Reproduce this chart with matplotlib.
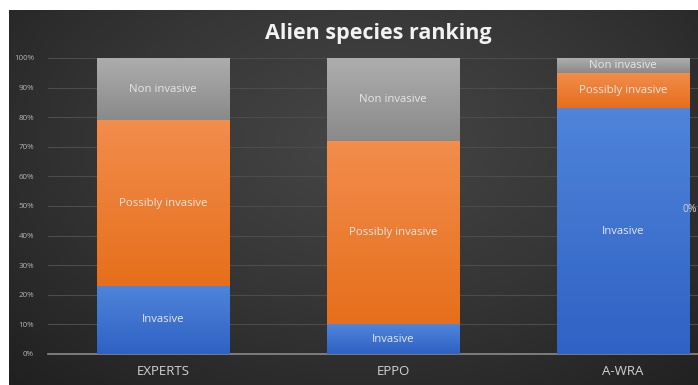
import numpy as np
import matplotlib
matplotlib.use('Agg')
import matplotlib.pyplot as plt
from matplotlib.colors import LinearSegmentedColormap

# data (share of species per ranking)
categories = ['EXPERTS', 'EPPO', 'A-WRA']
series_names = ['Invasive', 'Possibly invasive', 'Non invasive']
invasive = [0.23, 0.10, 0.83]
possibly_invasive = [0.56, 0.62, 0.12]
non_invasive = [0.21, 0.28, 0.05]
y_ticks = [0, 0.1, 0.2, 0.3, 0.4, 0.5, 0.6, 0.7, 0.8, 0.9, 1.0]
y_tick_labels = ['0%', '10%', '20%', '30%', '40%', '50%', '60%', '70%', '80%', '90%', '100%']

# gradient colours per series (top, bottom)
grad_colors = [('#4f84da', '#2f62c4'),
               ('#f28d4c', '#e66f1c'),
               ('#adadad', '#8a8a8a')]

plt.rcParams['font.family'] = ['Open Sans', 'DejaVu Sans']

W, H = 698, 385
fig = plt.figure(figsize=(W / 100, H / 100), dpi=100)
fig.patch.set_facecolor('white')

# dark radial background (white strip on top and left as in the screenshot)
bg = fig.add_axes([9 / W, 0, 1 - 9 / W, 1 - 10 / H])
yy, xx = np.mgrid[0:1:200j, 0:1:300j]
r = np.sqrt(((xx - 0.52) / 0.75) ** 2 + ((yy - 0.35) / 0.9) ** 2)
r = np.clip(r / r.max(), 0, 1)
bg_cmap = LinearSegmentedColormap.from_list('bg', ['#464646', '#353535', '#202020'])
bg.imshow(r, cmap=bg_cmap, aspect='auto', extent=[0, 1, 0, 1], origin='upper')
bg.set_axis_off()

# main axes, category 0 centered at 163 px, spacing 230 px
ax = fig.add_axes([48 / W, 31 / H, 690 / W, 296 / H])
ax.set_facecolor('none')

x = np.arange(len(categories))
series = [invasive, possibly_invasive, non_invasive]
bottom = np.zeros(len(categories))
for k, vals in enumerate(series):
    bars = ax.bar(x, vals, width=0.574, bottom=bottom, color='none', zorder=3)
    cmap = LinearSegmentedColormap.from_list('g%d' % k, [grad_colors[k][1], grad_colors[k][0]])
    for b in bars:
        x0, y0 = b.get_x(), b.get_y()
        w, h = b.get_width(), b.get_height()
        ax.imshow(np.linspace(0, 1, 50).reshape(-1, 1), cmap=cmap, aspect='auto',
                  extent=[x0, x0 + w, y0, y0 + h], origin='lower', zorder=3)
        ax.text(x0 + w / 2, y0 + h / 2, series_names[k], ha='center', va='center',
                fontsize=8.2, color='#e6e6e6', zorder=5)
    bottom += np.array(vals)

ax.set_xlim(-0.5, 2.5)
ax.set_ylim(0, 1)
ax.set_yticks(y_ticks)
ax.set_yticklabels(y_tick_labels, fontsize=5.8, color='#b4b4b4')
ax.set_xticks(x)
ax.set_xticklabels(categories, fontsize=9.5, color='#d2d2d2')
ax.tick_params(length=0)
ax.tick_params(axis='y', pad=10)
ax.tick_params(axis='x', pad=8)
ax.grid(axis='y', color='#4c4c4c', linewidth=0.8, zorder=0)
for s in ['top', 'right', 'left']:
    ax.spines[s].set_visible(False)
ax.spines['bottom'].set_color('#8a8a8a')
ax.spines['bottom'].set_linewidth(1.2)

fig.text(378 / W, 1 - 33 / H, 'Alien species ranking', ha='center', va='center',
         fontsize=15.5, fontweight='bold', color='#f2f2f2')
# stray data label at the right edge (cut in the original, kept inside here)
fig.text(697 / W, 1 - 210 / H, '0%', ha='right', va='center', fontsize=7.5, color='#d2d2d2',
         zorder=6)

fig.savefig('out.png', dpi=100)
